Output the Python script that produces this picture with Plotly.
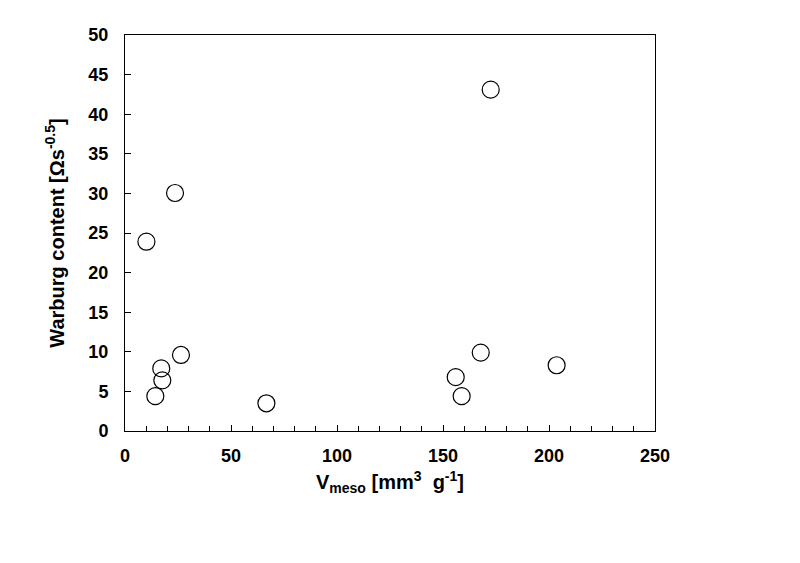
import plotly.graph_objects as go

# Data
v_meso = [10.1, 23.6, 14.3, 17.6, 17.1, 26.4, 66.7, 156.0, 158.8, 167.8, 172.5, 203.6]
warburg = [23.9, 30.05, 4.4, 6.4, 7.9, 9.6, 3.5, 6.8, 4.4, 9.9, 43.1, 8.3]

x_ticks = [0, 50, 100, 150, 200, 250]
y_ticks = [0, 5, 10, 15, 20, 25, 30, 35, 40, 45, 50]

fig = go.Figure()
fig.add_trace(go.Scatter(
    x=v_meso, y=warburg, mode="markers",
    marker=dict(symbol="circle-open", size=17, color="black", line=dict(width=1.2, color="black")),
    showlegend=False,
))

tick_font = dict(family="Liberation Sans, Arial, sans-serif", size=18, color="black", weight="bold")
title_font = dict(family="Liberation Sans, Arial, sans-serif", size=20, color="black", weight="bold")

fig.update_layout(
    width=800, height=563,
    margin=dict(l=117, r=153, t=27, b=140),
    paper_bgcolor="white", plot_bgcolor="white",
)
fig.update_xaxes(
    range=[0, 250], tickvals=x_ticks, ticktext=[str(t) for t in x_ticks],
    showgrid=False, zeroline=False,
    showline=True, linecolor="black", linewidth=1, mirror=True,
    ticks="inside", ticklen=6, tickcolor="black", tickwidth=1,
    minor=dict(dtick=10, ticks="inside", ticklen=5, tickcolor="black", tickwidth=1, showgrid=False),
    tickfont=tick_font, ticklabelstandoff=8,
    title=dict(text="V<sub>meso</sub> [mm<sup>3</sup>  g<sup>-1</sup>]", font=title_font, standoff=10),
)
fig.update_yaxes(
    range=[0, 50], tickvals=y_ticks, ticktext=[str(t) for t in y_ticks],
    showgrid=False, zeroline=False,
    showline=True, linecolor="black", linewidth=1, mirror=True,
    ticks="inside", ticklen=6, tickcolor="black", tickwidth=1,
    tickfont=tick_font, ticklabelstandoff=12,
    title=dict(text="Warburg content [Ωs<sup>-0.5</sup>]", font=title_font, standoff=18),
)

fig.write_html("out.html")
